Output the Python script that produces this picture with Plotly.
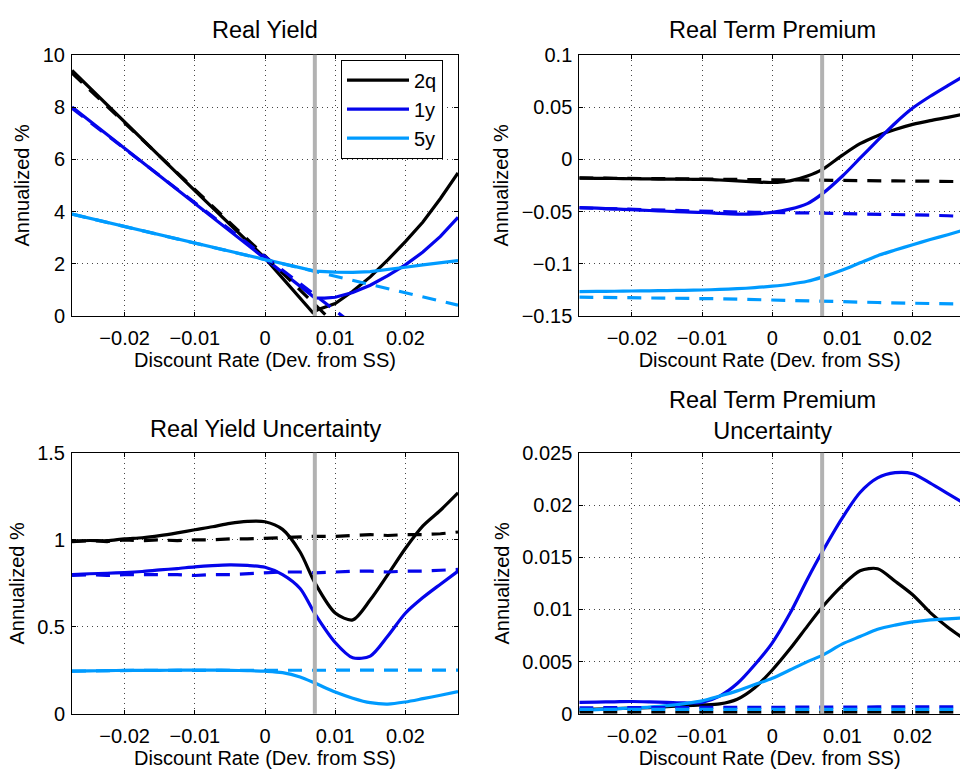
import plotly.graph_objects as go

# ---------------- data ----------------
SERIES = ["2q", "1y", "5y"]
COLORS = {"2q": "rgb(0,0,0)", "1y": "rgb(5,5,235)", "5y": "rgb(0,155,255)"}
GRAY_X = 0.0071

X_TICKS = [-0.02, -0.01, 0, 0.01, 0.02]
X_TICKTEXT = ["\u22120.02", "\u22120.01", "0", "0.01", "0.02"]

# common grid for panels 2-4
X = [-0.0275, -0.025, -0.0225, -0.02, -0.0175, -0.015, -0.0125, -0.01, -0.0075, -0.005,
     -0.0025, 0, 0.0025, 0.005, 0.0071, 0.01, 0.0125, 0.015, 0.0175, 0.02, 0.0225, 0.025, 0.0275]

# Panel 1: Real Yield
ry_x_2q = [-0.0275, -0.01, 0, 0.0068, 0.0075, 0.01, 0.0125, 0.015, 0.0175, 0.02, 0.0225, 0.025, 0.0275]
ry_2q = [9.4, 4.8, 2.22, 0.14, 0.24, 0.48, 0.95, 1.5, 2.15, 2.85, 3.6, 4.5, 5.48]
ry_x_2q_d = [-0.0275, 0, 0.0071, 0.0275]
ry_2q_d = [9.3, 2.3, 0.45, -4.9]
ry_x_1y = [-0.0275, 0, 0.0071, 0.0085, 0.01, 0.0125, 0.015, 0.0175, 0.02, 0.0225, 0.025, 0.0275]
ry_1y = [8.0, 2.2, 0.7, 0.69, 0.72, 0.9, 1.18, 1.55, 1.96, 2.45, 3.05, 3.78]
ry_x_1y_d = [-0.0275, 0.011, 0.0275]
ry_1y_d = [7.95, 0.0, -3.4]
ry_x_5y = [-0.0275, -0.01, 0, 0.0071, 0.01, 0.0125, 0.015, 0.0175, 0.02, 0.0225, 0.025, 0.0275]
ry_5y = [3.9, 2.8, 2.15, 1.72, 1.68, 1.67, 1.7, 1.77, 1.87, 1.96, 2.04, 2.12]
ry_x_5y_d = [-0.0275, 0.0071, 0.0275]
ry_5y_d = [3.9, 1.72, 0.42]

# Panel 2: Real Term Premium
rtp_2q = [-0.018, -0.0182, -0.0184, -0.0186, -0.0188, -0.019, -0.0191, -0.0193, -0.0198, -0.0207,
          -0.0216, -0.0222, -0.0207, -0.016, -0.0099, 0.004, 0.0149, 0.0226, 0.0285, 0.0334,
          0.037, 0.0401, 0.0435]
rtp_2q_d = [-0.0178, -0.018, -0.0182, -0.0184, -0.0186, -0.0188, -0.019, -0.0192, -0.0194, -0.0196,
            -0.0197, -0.0198, -0.0199, -0.02, -0.0201, -0.0202, -0.0204, -0.0205, -0.0207, -0.0208,
            -0.021, -0.0212, -0.0214]
rtp_1y = [-0.0461, -0.0468, -0.0475, -0.0482, -0.049, -0.0497, -0.0503, -0.0508, -0.0518, -0.0524,
          -0.0522, -0.0508, -0.0477, -0.0424, -0.0331, -0.016, 0.001, 0.018, 0.0345, 0.049,
          0.0603, 0.0705, 0.0805]
rtp_1y_d = [-0.0465, -0.047, -0.0475, -0.048, -0.0485, -0.049, -0.0495, -0.05, -0.0503, -0.0505,
            -0.0507, -0.0508, -0.051, -0.0512, -0.0515, -0.052, -0.0522, -0.0525, -0.0528, -0.053,
            -0.0535, -0.054, -0.0548]
rtp_5y = [-0.1266, -0.1264, -0.1262, -0.126, -0.1258, -0.1256, -0.1253, -0.125, -0.1245, -0.1238,
          -0.1228, -0.1214, -0.1195, -0.1167, -0.1127, -0.1059, -0.099, -0.0922, -0.0868, -0.0817,
          -0.0768, -0.0721, -0.0672]
rtp_5y_d = [-0.1319, -0.132, -0.1322, -0.1325, -0.1326, -0.1327, -0.1328, -0.133, -0.1334, -0.1338,
            -0.1341, -0.1345, -0.135, -0.1354, -0.1359, -0.1363, -0.1366, -0.137, -0.1374, -0.1378,
            -0.1381, -0.1383, -0.1386]

# Panel 3: Real Yield Uncertainty
ryu_2q = [0.993, 0.996, 0.995, 1.006, 1.012, 1.024, 1.04, 1.058, 1.075, 1.095,
          1.106, 1.104, 1.06, 0.93, 0.754, 0.58, 0.54, 0.655, 0.80, 0.95,
          1.08, 1.17, 1.27]
ryu_2q_d = [0.99, 0.995, 0.99, 1.0, 0.995, 1.0, 0.995, 1.0, 1.0, 1.005,
            1.005, 1.01, 1.015, 1.02, 1.02, 1.02, 1.025, 1.03, 1.025, 1.03,
            1.03, 1.035, 1.045]
ryu_1y = [0.80, 0.805, 0.808, 0.812, 0.818, 0.827, 0.835, 0.845, 0.852, 0.856,
          0.853, 0.842, 0.80, 0.72, 0.576, 0.41, 0.322, 0.332, 0.447, 0.578,
          0.668, 0.745, 0.82]
ryu_1y_d = [0.795, 0.80, 0.795, 0.80, 0.80, 0.80, 0.80, 0.795, 0.80, 0.80,
            0.805, 0.81, 0.815, 0.815, 0.81, 0.815, 0.82, 0.82, 0.815, 0.82,
            0.82, 0.825, 0.83]
ryu_5y = [0.245, 0.247, 0.248, 0.25, 0.25, 0.25, 0.251, 0.251, 0.251, 0.25,
          0.248, 0.245, 0.237, 0.212, 0.177, 0.125, 0.09, 0.064, 0.056, 0.068,
          0.087, 0.107, 0.128]
ryu_5y_d = [0.245, 0.247, 0.248, 0.249, 0.25, 0.25, 0.25, 0.25, 0.25, 0.25,
            0.25, 0.25, 0.251, 0.251, 0.251, 0.251, 0.251, 0.251, 0.251, 0.251,
            0.251, 0.251, 0.251]

# Panel 4: Real Term Premium Uncertainty
rtpu_2q = [0.0004, 0.00045, 0.0005, 0.00055, 0.0006, 0.00068, 0.00078, 0.00085, 0.00095, 0.0014,
           0.0025, 0.0042, 0.0062, 0.0084, 0.0102, 0.0123, 0.0137, 0.0139, 0.0127, 0.0114,
           0.0097, 0.0083, 0.0071]
rtpu_2q_d = [0.00015] * 23
rtpu_1y = [0.00109, 0.00112, 0.00115, 0.00118, 0.00115, 0.0011, 0.00104, 0.0011, 0.0017, 0.0029,
           0.0047, 0.0068, 0.0096, 0.0129, 0.0155, 0.0188, 0.0212, 0.0226, 0.0231, 0.023,
           0.0221, 0.0211, 0.0201]
rtpu_1y_d = [0.00058, 0.00058, 0.00059, 0.00059, 0.0006, 0.0006, 0.0006, 0.00061, 0.00061, 0.00062,
             0.00062, 0.00063, 0.00063, 0.00064, 0.00064, 0.00065, 0.00065, 0.00066, 0.00066, 0.00067,
             0.00067, 0.00068, 0.00068]
rtpu_5y = [0.0003, 0.0004, 0.00048, 0.00056, 0.00065, 0.00078, 0.00098, 0.00124, 0.0017, 0.0022,
           0.0028, 0.0034, 0.0042, 0.005, 0.0056, 0.0067, 0.0074, 0.0081, 0.0085, 0.0088,
           0.009, 0.0091, 0.0092]
rtpu_5y_d = [0.00042] * 23

Y1_TICKS = [0, 2, 4, 6, 8, 10]
Y1_TEXT = ["0", "2", "4", "6", "8", "10"]
Y2_TICKS = [-0.15, -0.1, -0.05, 0, 0.05, 0.1]
Y2_TEXT = ["\u22120.15", "\u22120.1", "\u22120.05", "0", "0.05", "0.1"]
Y3_TICKS = [0, 0.5, 1, 1.5]
Y3_TEXT = ["0", "0.5", "1", "1.5"]
Y4_TICKS = [0, 0.005, 0.01, 0.015, 0.02, 0.025]
Y4_TEXT = ["0", "0.005", "0.01", "0.015", "0.02", "0.025"]

TITLES = ["Real Yield", "Real Term Premium", "Real Yield Uncertainty", "Real Term Premium<br>Uncertainty"]
XLABEL = "Discount Rate (Dev. from SS)"
YLABEL = "Annualized %"

# ---------------- figure ----------------
FONT = "Liberation Sans, Arial, Helvetica, sans-serif"
W, H = 960, 777
fig = go.Figure()

panels = [
    ("", {"2q": (ry_x_2q, ry_2q, ry_x_2q_d, ry_2q_d),
          "1y": (ry_x_1y, ry_1y, ry_x_1y_d, ry_1y_d),
          "5y": (ry_x_5y, ry_5y, ry_x_5y_d, ry_5y_d)}, False),
    ("2", {"2q": (X, rtp_2q, X, rtp_2q_d), "1y": (X, rtp_1y, X, rtp_1y_d),
           "5y": (X, rtp_5y, X, rtp_5y_d)}, True),
    ("3", {"2q": (X, ryu_2q, X, ryu_2q_d), "1y": (X, ryu_1y, X, ryu_1y_d),
           "5y": (X, ryu_5y, X, ryu_5y_d)}, True),
    ("4", {"2q": (X, rtpu_2q, X, rtpu_2q_d), "1y": (X, rtpu_1y, X, rtpu_1y_d),
           "5y": (X, rtpu_5y, X, rtpu_5y_d)}, True),
]

DASH = "14px,10px"
LW = 3.2
for pi, (sfx, data, spline) in enumerate(panels):
    xa, ya = "x" + sfx, "y" + sfx
    for s in SERIES:
        xs, ys, xd, yd = data[s]
        fig.add_trace(go.Scatter(
            x=xs, y=ys, mode="lines", name=s, xaxis=xa, yaxis=ya,
            line=dict(color=COLORS[s], width=LW, shape="spline" if spline else "linear",
                      smoothing=0.8),
            showlegend=(pi == 0)))
    for s in SERIES:
        xs, ys, xd, yd = data[s]
        fig.add_trace(go.Scatter(
            x=xd, y=yd, mode="lines", name=s + " (dashed)", xaxis=xa, yaxis=ya,
            line=dict(color=COLORS[s], width=LW, dash=DASH),
            showlegend=False))

L_DOM = [72 / W, 458 / W]
R_DOM = [579.3 / W, 1.0]
T_DOM = [1 - 314 / H, 1 - 45 / H]
B_DOM = [1 - 723.3 / H, 1 - 454.7 / H]
X_RANGE_L = [-0.0275, 0.0275]
X_RANGE_R = [-0.0275, 0.02674]

tickfont = dict(family=FONT, size=20, color="black")
titlefont = dict(family=FONT, size=20, color="black")
grid = dict(showgrid=True, gridcolor="rgb(70,70,70)", griddash="1px,4px", gridwidth=1,
            zeroline=False, showline=True, linecolor="black", linewidth=1,
            ticks="inside", ticklen=4, tickcolor="black", tickfont=tickfont)

def xaxis(dom, rng, anchor, mirror):
    return dict(domain=dom, range=rng, anchor=anchor, tickvals=X_TICKS, ticktext=X_TICKTEXT,
                mirror=mirror, ticklabelstandoff=4,
                title=dict(text=XLABEL, font=titlefont, standoff=3), **grid)

def yaxis(dom, rng, anchor, tv, tt, mirror):
    return dict(domain=dom, range=rng, anchor=anchor, tickvals=tv, ticktext=tt,
                mirror=mirror, ticklabelstandoff=2,
                title=dict(text=YLABEL, font=titlefont, standoff=7), **grid)

fig.update_layout(
    width=W, height=H, margin=dict(l=0, r=0, t=0, b=0),
    paper_bgcolor="white", plot_bgcolor="white",
    font=dict(family=FONT, color="black"),
    xaxis=xaxis(L_DOM, X_RANGE_L, "y", "ticks"),
    yaxis=yaxis(T_DOM, [0, 10], "x", Y1_TICKS, Y1_TEXT, "ticks"),
    xaxis2=xaxis(R_DOM, X_RANGE_R, "y2", "ticks"),
    yaxis2=yaxis(T_DOM, [-0.15, 0.1], "x2", Y2_TICKS, Y2_TEXT, False),
    xaxis3=xaxis(L_DOM, X_RANGE_L, "y3", "ticks"),
    yaxis3=yaxis(B_DOM, [0, 1.5], "x3", Y3_TICKS, Y3_TEXT, "ticks"),
    xaxis4=xaxis(R_DOM, X_RANGE_R, "y4", "ticks"),
    yaxis4=yaxis(B_DOM, [0, 0.025], "x4", Y4_TICKS, Y4_TEXT, False),
    legend=dict(x=341 / W, y=1 - 50 / H, xanchor="left", yanchor="top",
                bgcolor="white", bordercolor="black", borderwidth=1,
                font=dict(family=FONT, size=20, color="black"),
                itemwidth=62, tracegroupgap=0),
    showlegend=True,
)

# vertical gray reference line in each panel
for sfx in ["", "2", "3", "4"]:
    fig.add_shape(type="line", xref="x" + sfx, yref="y" + sfx + " domain",
                  x0=GRAY_X, x1=GRAY_X, y0=0, y1=1,
                  line=dict(color="rgb(178,178,178)", width=4), layer="above")

# subplot titles
title_pos = [((72 + 458) / 2 / W, 1 - 20 / H), (772.3 / W, 1 - 20 / H),
             ((72 + 458) / 2 / W, 1 - 430 / H), (772.3 / W, 1 - 416.5 / H)]
for t, (tx, ty) in zip(TITLES, title_pos):
    fig.add_annotation(text=t, x=tx, y=ty, xref="paper", yref="paper",
                       xanchor="center", yanchor="middle", showarrow=False,
                       font=dict(family=FONT, size=23.5, color="black"))

fig.write_html("out.html")
